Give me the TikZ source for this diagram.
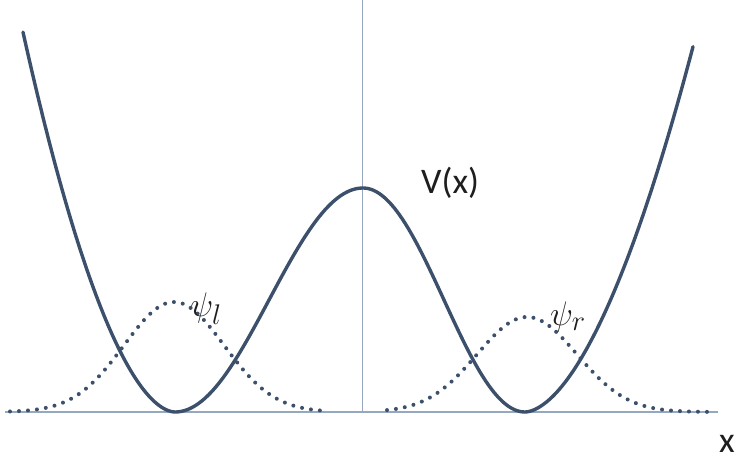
\documentclass[tikz,border=0pt]{standalone}
\usepackage{fontspec}
\newfontfamily\calib{Carlito}
\begin{document}
\begin{tikzpicture}[x=1pt,y=-1pt,
  potential/.style={line width=3.4pt, draw={rgb,255:red,60;green,80;blue,108}, line join=round, line cap=round},
  axisline/.style={line width=1.3pt, draw={rgb,255:red,150;green,168;blue,190}},
  wave/.style={line width=4pt, draw={rgb,255:red,60;green,80;blue,108}, line cap=round, dash pattern=on 0pt off 9pt},
  lab/.style={inner sep=0pt, text={rgb,255:red,30;green,30;blue,30}},
  psilab/.style={lab, scale=1.37, font=\Huge}
]
\useasboundingbox (0,0) rectangle (736,463);
\fill[white] (0,0) rectangle (736,463);
% axes
\coordinate (xl) at (5,412);
\coordinate (xr) at (718,412);
\coordinate (vt) at (362,0);
\coordinate (vb) at (362,412);
\draw[axisline] (xl) -- (xr);
\draw[axisline, line width=1pt] (vt) -- (vb);
% wave functions
\draw[wave] plot[domain=10:322, samples=120] (\x, {412-110*exp(-((\x-174)/50)^2/2)});
\draw[wave] plot[domain=387:715, samples=120] (\x, {412-95*exp(-((\x-527)/50)^2/2)});
% potential
\draw[potential]
  plot[domain=23:175, samples=80] (\x, {412-0.0449*(175.01-\x)^1.8})
  -- plot[domain=175:363, samples=90] (\x, {412-112*(1-cos((\x-175)/188*180))})
  -- plot[domain=363:525, samples=80] (\x, {412-112*(1+cos((\x-363)/162*180))})
  -- plot[domain=525:693, samples=80] (\x, {412-0.0466*(\x-524.99)^1.75});
% labels
\node[psilab, anchor=center] (psil) at (206,309) {$\psi_l$};
\node[psilab, anchor=center] (psir) at (568,317) {$\psi_r$};
\node[lab, anchor=base west] (vx) at (421,193) {\calib\fontsize{36}{40}\selectfont V(x)};
\node[lab, anchor=base east] (xlab) at (735,452) {\calib\fontsize{36}{40}\selectfont x};
\end{tikzpicture}
\end{document}
